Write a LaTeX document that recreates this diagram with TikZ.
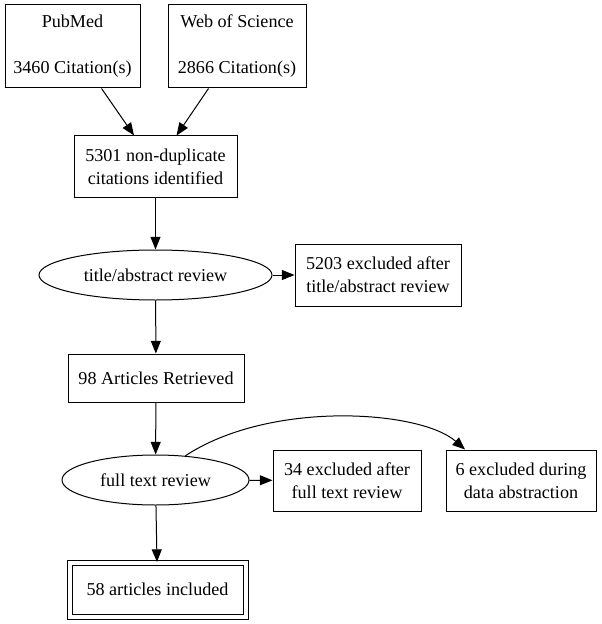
\documentclass[tikz,border=0pt]{standalone}
\usepackage{fontspec}
\setmainfont{Liberation Serif}
\usetikzlibrary{arrows.meta,shapes.geometric}
\tikzset{
  box/.style={draw, rectangle, align=center, inner sep=0pt},
  oval/.style={draw, ellipse, inner sep=0pt, minimum height=37.5pt},
  flow/.style={-{Triangle[length=9.5pt,width=7.5pt]}}
}
\begin{document}
\begin{tikzpicture}[x=0.75pt, y=-0.75pt, line width=0.75pt, font=\fontsize{13.6}{17.25}\selectfont]
        \useasboundingbox (0,0) rectangle (601,624);
        \node [box, minimum width=101.25pt, minimum height=62.25pt] (pubmed) at (72.5,46.5) {PubMed\\[17.25pt]3460 Citation(s)};
        \node [box, minimum width=103.5pt, minimum height=62.25pt] (wos) at (237,46.5) {Web of Science\\[17.25pt]2866 Citation(s)};
        \node [box, minimum width=122.25pt, minimum height=45.75pt] (dedup) at (155.5,166.5) {5301 non-duplicate\\citations identified};
        \node [oval, minimum width=174.75pt] (tar) at (155.5,275) {title/abstract review};
        \node [box, minimum width=124.5pt, minimum height=46.5pt] (ex1) at (378,275) {5203 excluded after\\title/abstract review};
        \node [box, minimum width=132pt, minimum height=36pt] (retr) at (156,378) {98 Articles Retrieved};
        \node [oval, minimum width=140.25pt] (ftr) at (155.5,480) {full text review};
        \node [box, minimum width=111pt, minimum height=45.75pt] (ex2) at (347,480.5) {34 excluded after\\full text review};
        \node [box, minimum width=112.5pt, minimum height=45.75pt] (ex3) at (521,480.5) {6 excluded during\\data abstraction};
        \node [box, double, double distance=3pt, minimum width=132pt, minimum height=40.5pt] (incl) at (157.5,589.5) {58 articles included};
        \draw [flow] (pubmed) -- (dedup);
        \draw [flow] (wos) -- (dedup);
        \draw [flow] (dedup) -- (tar);
        \draw [flow] (tar) -- (ex1);
        \draw [flow] (tar) -- (retr);
        \draw [flow] (retr) -- (ftr);
        \draw [flow] (ftr) -- (ex2);
        \draw [flow] (ftr.39) .. controls (270,400) and (420,410) .. (ex3.151);
        \draw [flow] (ftr) -- (incl);
    \end{tikzpicture}
\end{document}
